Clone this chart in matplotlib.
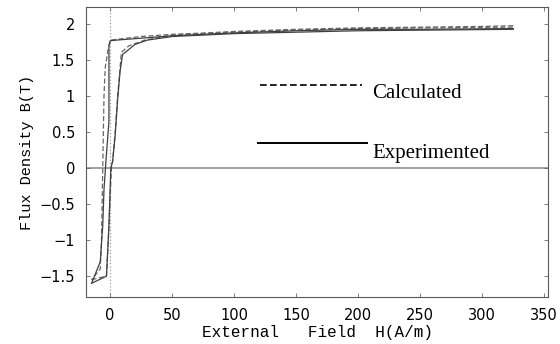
import matplotlib
matplotlib.use("Agg")
import matplotlib.pyplot as plt

# Calculated hysteresis loop (dashed)
calc_h_desc = [325, 300, 250, 200, 150, 100, 77, 50, 25, 10, 0, -2, -4, -5, -5.5, -6, -6.5, -7, -8, -15]
calc_b_desc = [1.98, 1.97, 1.96, 1.95, 1.93, 1.90, 1.88, 1.86, 1.83, 1.80, 1.78, 1.62, 1.4, 1.0, 0.5, 0.0, -0.5, -1.0, -1.4, -1.55]
calc_h_asc = [-15, -3, -1.5, 0, 1, 2, 4, 6, 8, 9, 15, 28, 50, 100, 150, 200, 250, 325]
calc_b_asc = [-1.55, -1.5, -1.0, -0.4, 0.0, 0.1, 0.5, 1.0, 1.4, 1.61, 1.7, 1.78, 1.85, 1.89, 1.92, 1.94, 1.95, 1.96]

# Experimented hysteresis loop (solid)
exp_h_desc = [325, 250, 200, 150, 100, 50, 20, 5, 0, -1, -1, -3, -5, -6, -8, -15]
exp_b_desc = [1.94, 1.93, 1.93, 1.91, 1.88, 1.84, 1.80, 1.78, 1.77, 1.7, 0.65, 0.2, -0.3, -0.8, -1.3, -1.6]
exp_h_asc = [-15, -3, -1, 0.5, 2, 4, 6, 8, 10, 20, 30, 50, 100, 200, 325]
exp_b_asc = [-1.6, -1.5, -0.8, 0.0, 0.1, 0.45, 0.95, 1.35, 1.58, 1.72, 1.78, 1.83, 1.87, 1.91, 1.93]

x_ticks = [0, 50, 100, 150, 200, 250, 300, 350]
y_ticks = [-1.5, -1, -0.5, 0, 0.5, 1, 1.5, 2]
y_tick_labels = ["\u22121.5", "\u22121", "\u22120.5", "0", "0.5", "1", "1.5", "2"]

fig = plt.figure(figsize=(5.6, 3.44), dpi=100)
ax = fig.add_axes([86/560, 47/344, 462/560, 290/344])

ax.axhline(0, color="0.6", lw=1.3, zorder=1)
ax.axvline(0, color="0.55", lw=0.8, ls=(0, (1, 2)), zorder=1)

ax.plot(calc_h_desc, calc_b_desc, color="0.4", lw=0.9, ls=(0, (4, 2)))
ax.plot(calc_h_asc, calc_b_asc, color="0.4", lw=0.9, ls=(0, (4, 2)))
ax.plot(exp_h_desc, exp_b_desc, color="0.25", lw=0.9)
ax.plot(exp_h_asc, exp_b_asc, color="0.25", lw=0.9)

# in-plot legend
ax.plot([121, 203], [1.15, 1.15], color="black", lw=1.2, ls=(0, (4, 2)))
ax.plot([119, 207], [0.35, 0.35], color="black", lw=1.4)
ax.text(211, 0.97, "Calculated", family="Liberation Serif", fontsize=15, va="baseline")
ax.text(211, 0.14, "Experimented", family="Liberation Serif", fontsize=15, va="baseline")

ax.set_xlim(-19.5, 353)
ax.set_ylim(-1.79, 2.24)
ax.set_xticks(x_ticks)
ax.set_yticks(y_ticks)
ax.set_yticklabels(y_tick_labels)
ax.tick_params(direction="in", top=True, right=True, length=3, width=0.6,
               labelsize=10.5, pad=8, color="0.4")
for s in ax.spines.values():
    s.set_color("0.35")
    s.set_linewidth(0.8)

ax.set_ylabel("Flux Density B(T)", family="Liberation Mono", fontsize=11, labelpad=4)
ax.set_xlabel("External   Field  H(A/m)", family="Liberation Mono", fontsize=11.5, labelpad=1)

fig.savefig("out.png", dpi=100)
